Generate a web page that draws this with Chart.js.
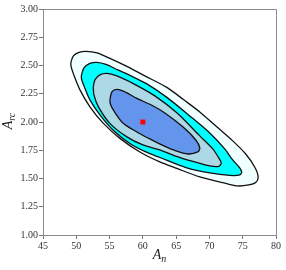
<!DOCTYPE html>
<html>
<head>
<meta charset="utf-8">
<script src="https://cdn.jsdelivr.net/npm/chart.js@4"></script>
<style>
  html, body { margin: 0; padding: 0; background: #fff; }
  #wrap { width: 286px; height: 270px; }
</style>
</head>
<body>
<div id="wrap"><canvas id="chart"></canvas></div>
<script>
// contours, outer -> inner (A_n, A_rc)
var outerX = [49.20, 49.57, 50.40, 51.45, 53.10, 55.05, 57.60, 60.30, 63.60, 66.15, 68.55, 71.10, 73.50, 75.45, 76.80, 77.32, 76.95, 75.90, 74.25, 72.45, 68.55, 65.10, 62.55, 59.55, 56.55, 54.00, 52.05, 50.55, 49.57, 49.20, 49.20];
var outerY = [2.532, 2.585, 2.616, 2.625, 2.612, 2.563, 2.492, 2.408, 2.306, 2.196, 2.089, 1.957, 1.833, 1.717, 1.602, 1.514, 1.465, 1.443, 1.434, 1.456, 1.514, 1.589, 1.647, 1.735, 1.855, 1.992, 2.134, 2.284, 2.426, 2.497, 2.532];

var cyanX = [50.78, 51.15, 52.05, 53.10, 54.45, 56.25, 58.05, 60.60, 63.60, 67.05, 70.05, 72.30, 73.50, 74.55, 74.85, 74.55, 73.05, 70.05, 66.60, 62.55, 60.45, 58.05, 55.50, 53.55, 52.05, 51.15, 50.78, 50.78];
var cyanY = [2.417, 2.479, 2.519, 2.528, 2.510, 2.461, 2.413, 2.337, 2.218, 2.054, 1.903, 1.762, 1.664, 1.594, 1.558, 1.531, 1.527, 1.549, 1.594, 1.686, 1.735, 1.810, 1.930, 2.063, 2.196, 2.320, 2.382, 2.417];

var lightX = [52.55, 52.80, 53.55, 54.60, 56.10, 58.50, 61.80, 65.10, 68.55, 70.50, 71.40, 71.77, 71.40, 70.05, 67.50, 64.80, 62.55, 60.00, 57.60, 55.05, 53.33, 52.65, 52.55];
var lightY = [2.311, 2.373, 2.417, 2.430, 2.408, 2.342, 2.231, 2.081, 1.877, 1.762, 1.682, 1.638, 1.607, 1.611, 1.651, 1.700, 1.753, 1.797, 1.868, 1.988, 2.134, 2.240, 2.311];

var innerX = [55.05, 55.35, 56.10, 57.15, 59.10, 61.35, 63.30, 66.00, 67.95, 68.55, 68.25, 66.75, 64.80, 63.00, 61.05, 59.10, 57.00, 55.65, 55.12, 55.05];
var innerY = [2.196, 2.267, 2.289, 2.271, 2.209, 2.148, 2.080, 1.957, 1.841, 1.771, 1.735, 1.717, 1.748, 1.793, 1.850, 1.912, 1.992, 2.098, 2.160, 2.196];

var bestFit = [60, 2.0];

var xTicks = [45, 50, 55, 60, 65, 70, 75, 80];
var yTicks = [1.00, 1.25, 1.50, 1.75, 2.00, 2.25, 2.50, 2.75, 3.00];

function pts(xs, ys) {
    return xs.map(function(x, i) { return { x: x, y: ys[i] }; });
}

function contour(xs, ys, color) {
    return {
        type: 'line',
        data: pts(xs, ys),
        backgroundColor: color,
        borderColor: '#111',
        borderWidth: 1.3,
        pointRadius: 0,
        tension: 0.3,
        fill: 'shape'
    };
}

var serif = '"Liberation Serif", "DejaVu Serif", serif';

function subText(ctx, main, sub, x, y) {
    ctx.font = 'italic 14px ' + serif;
    var w1 = ctx.measureText(main).width;
    ctx.font = 'italic 10px ' + serif;
    var w2 = ctx.measureText(sub).width;
    var start = x - (w1 + w2) / 2;
    ctx.font = 'italic 14px ' + serif;
    ctx.fillText(main, start, y);
    ctx.font = 'italic 10px ' + serif;
    ctx.fillText(sub, start + w1, y + 3);
}

// frame on top/right and the axis titles with subscripts
var extras = {
    id: 'extras',
    afterDraw: function(chart) {
        var ctx = chart.ctx, a = chart.chartArea;
        ctx.save();
        ctx.strokeStyle = '#8a8a8a';
        ctx.lineWidth = 1;
        ctx.beginPath();
        ctx.moveTo(Math.round(a.left) + 0.5, Math.round(a.top) + 0.5);
        ctx.lineTo(Math.round(a.right) + 0.5, Math.round(a.top) + 0.5);
        ctx.lineTo(Math.round(a.right) + 0.5, Math.round(a.bottom) + 0.5);
        ctx.stroke();

        ctx.fillStyle = '#222';
        ctx.textAlign = 'left';
        ctx.textBaseline = 'alphabetic';
        subText(ctx, 'A', 'n', (a.left + a.right) / 2, 259);

        ctx.translate(11.5, 121);
        ctx.rotate(-Math.PI / 2);
        subText(ctx, 'A', 'rc', 0, 0);
        ctx.restore();
    }
};

var tickFont = { family: serif, size: 10 };

new Chart(document.getElementById('chart'), {
    type: 'scatter',
    data: {
        datasets: [
            {
                type: 'scatter',
                data: [{ x: bestFit[0], y: bestFit[1] }],
                pointStyle: 'rect',
                pointRadius: 3.5,
                backgroundColor: '#ff0000',
                borderWidth: 0
            },
            contour(innerX, innerY, '#6495ed'),
            contour(lightX, lightY, '#add8e6'),
            contour(cyanX, cyanY, '#00ffff'),
            contour(outerX, outerY, '#f0ffff')
        ]
    },
    options: {
        responsive: true,
        maintainAspectRatio: false,
        animation: false,
        layout: { padding: { top: 9, right: 10, left: 0, bottom: 0 } },
        plugins: {
            legend: { display: false },
            tooltip: { enabled: false }
        },
        scales: {
            x: {
                type: 'linear',
                min: 45,
                max: 80,
                afterBuildTicks: function(axis) {
                    axis.ticks = xTicks.map(function(v) { return { value: v }; });
                },
                afterFit: function(s) { s.height = 35; },
                ticks: { font: tickFont, color: '#333', padding: 1, maxRotation: 0 },
                grid: { display: true, drawOnChartArea: false, drawTicks: true, tickLength: 4, color: '#777' },
                border: { display: true, color: '#8a8a8a', width: 1 }
            },
            y: {
                type: 'linear',
                min: 1,
                max: 3,
                afterBuildTicks: function(axis) {
                    axis.ticks = yTicks.map(function(v) { return { value: v }; });
                },
                afterFit: function(s) { s.width = 43; },
                ticks: {
                    font: tickFont,
                    color: '#333',
                    padding: 1,
                    callback: function(v) { return Number(v).toFixed(2); }
                },
                grid: { display: true, drawOnChartArea: false, drawTicks: true, tickLength: 4, color: '#777' },
                border: { display: true, color: '#8a8a8a', width: 1 }
            }
        }
    },
    plugins: [extras]
});
</script>
</body>
</html>
